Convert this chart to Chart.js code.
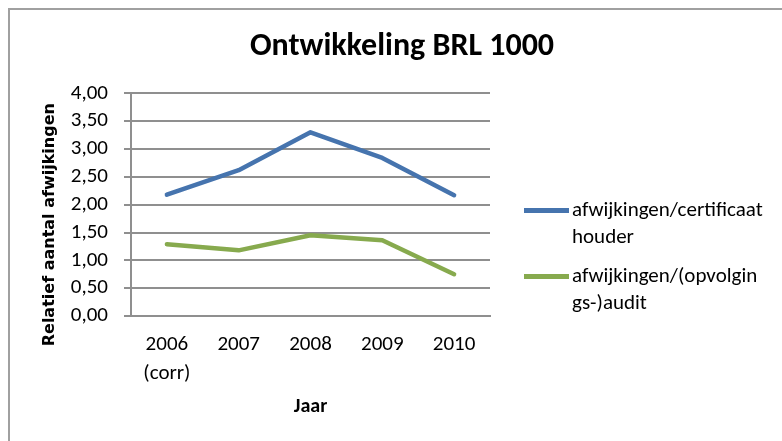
<!DOCTYPE html>
<html>
<head>
<meta charset="utf-8">
<script src="https://cdn.jsdelivr.net/npm/chart.js@4/dist/chart.umd.min.js"></script>
<style>
  html, body { margin: 0; padding: 0; background: #ffffff; }
  #wrap { width: 782px; height: 441px; position: relative; }
</style>
</head>
<body>
<div id="wrap"><canvas id="c" width="782" height="441"></canvas></div>
<script>
// ---- data ----
const categories = [['2006', '(corr)'], '2007', '2008', '2009', '2010'];
const seriesNames = [['afwijkingen/certificaat', 'houder'], ['afwijkingen/(opvolgin', 'gs-)audit']];
const certificaatHouder = [2.18, 2.62, 3.30, 2.84, 2.17];
const opvolgingsAudit = [1.29, 1.18, 1.45, 1.36, 0.75];
const yTickValues = [0, 0.5, 1, 1.5, 2, 2.5, 3, 3.5, 4];
const chartTitle = 'Ontwikkeling BRL 1000';
const yAxisTitle = 'Relatief aantal afwijkingen';
const xAxisTitle = 'Jaar';

const CAL = 'Carlito, Lato, "Open Sans", sans-serif';
const blue = '#4674AE';
const green = '#87AA4E';
const gridColor = '#8f8f8f';

const framePlugin = {
  id: 'frame',
  beforeDraw(chart) {
    const ctx = chart.ctx;
    ctx.save();
    ctx.fillStyle = '#ffffff';
    ctx.fillRect(0, 0, chart.width, chart.height);
    ctx.strokeStyle = '#a0a0a0';
    ctx.lineWidth = 2;
    ctx.beginPath();
    ctx.moveTo(9, chart.height + 5);
    ctx.lineTo(9, 9);
    ctx.lineTo(chart.width + 5, 9);
    ctx.stroke();
    ctx.restore();
  },
  afterLayout(chart) {
    if (chart.titleBlock) {
      chart.titleBlock.left = 22;
      chart.titleBlock.right = chart.width;
    }
    const ys = chart.scales.y;
    if (ys && !ys._shiftedTitle) {
      const orig = ys.drawTitle;
      ys.drawTitle = function () {
        const ctx = this.ctx;
        ctx.save();
        ctx.translate(0, 20);
        orig.apply(this, arguments);
        ctx.restore();
      };
      ys._shiftedTitle = true;
    }
  }
};

const legendPlugin = {
  id: 'sideLegend',
  afterDraw(chart) {
    const ctx = chart.ctx;
    const ca = chart.chartArea;
    const x0 = ca.right + 34;
    const x1 = x0 + 45;
    const tx = x1 + 3;
    const firstY = ca.top + 117;
    const itemGap = 66;
    const lineGap = 27;
    ctx.save();
    ctx.font = '21px ' + CAL;
    ctx.textBaseline = 'middle';
    ctx.textAlign = 'left';
    chart.data.datasets.forEach((ds, i) => {
      const y = firstY + i * itemGap;
      ctx.strokeStyle = ds.borderColor;
      ctx.lineWidth = 5;
      ctx.lineCap = 'butt';
      ctx.beginPath();
      ctx.moveTo(x0, y);
      ctx.lineTo(x1, y);
      ctx.stroke();
      ctx.fillStyle = '#000000';
      const lines = Array.isArray(ds.label) ? ds.label : [ds.label];
      lines.forEach((t, j) => ctx.fillText(t, tx, y + j * lineGap));
    });
    ctx.restore();
  }
};

new Chart(document.getElementById('c'), {
  type: 'line',
  data: {
    labels: categories,
    datasets: [
      { label: seriesNames[0], data: certificaatHouder, borderColor: blue, backgroundColor: blue,
        borderWidth: 4.5, pointRadius: 0, tension: 0, borderJoinStyle: 'round', borderCapStyle: 'round' },
      { label: seriesNames[1], data: opvolgingsAudit, borderColor: green, backgroundColor: green,
        borderWidth: 4.5, pointRadius: 0, tension: 0, borderJoinStyle: 'round', borderCapStyle: 'round' }
    ]
  },
  options: {
    responsive: false,
    animation: false,
    devicePixelRatio: 1,
    layout: { padding: { top: 0, left: 0, right: 292, bottom: 0 } },
    plugins: {
      legend: { display: false },
      tooltip: { enabled: false },
      title: {
        display: true,
        text: chartTitle,
        color: '#000000',
        font: { family: CAL, size: 32, weight: 'bold', lineHeight: 1.2 },
        padding: { top: 28, bottom: 27 }
      }
    },
    scales: {
      x: {
        offset: true,
        grid: { display: false, drawTicks: false },
        border: { display: true, color: gridColor, width: 2 },
        ticks: { color: '#000000', font: { family: CAL, size: 21, lineHeight: 1.35 }, padding: 15, maxRotation: 0, autoSkip: false },
        title: { display: true, text: xAxisTitle, color: '#000000', font: { family: CAL, size: 20, weight: 'bold', lineHeight: 1.2 }, padding: { top: 0, bottom: 22 } },
        afterFit(scale) { scale.height = 125; }
      },
      y: {
        min: 0,
        max: 4,
        afterBuildTicks(scale) { scale.ticks = yTickValues.map(v => ({ value: v })); },
        grid: { color: gridColor, lineWidth: 2, tickLength: 7, drawTicks: true },
        border: { display: true, color: gridColor, width: 2 },
        ticks: { color: '#000000', font: { family: CAL, size: 21, lineHeight: 1.0 }, padding: 16, autoSkip: false,
          callback: v => v.toFixed(2).replace('.', ',') },
        title: { display: true, text: yAxisTitle, color: '#000000', font: { family: '"DejaVu Sans", Verdana, sans-serif', size: 16, weight: 'bold', lineHeight: 1.2 }, padding: { top: 40, bottom: 0 } },
        afterFit(scale) { scale.width = 131; }
      }
    }
  },
  plugins: [framePlugin, legendPlugin]
});
</script>
</body>
</html>
